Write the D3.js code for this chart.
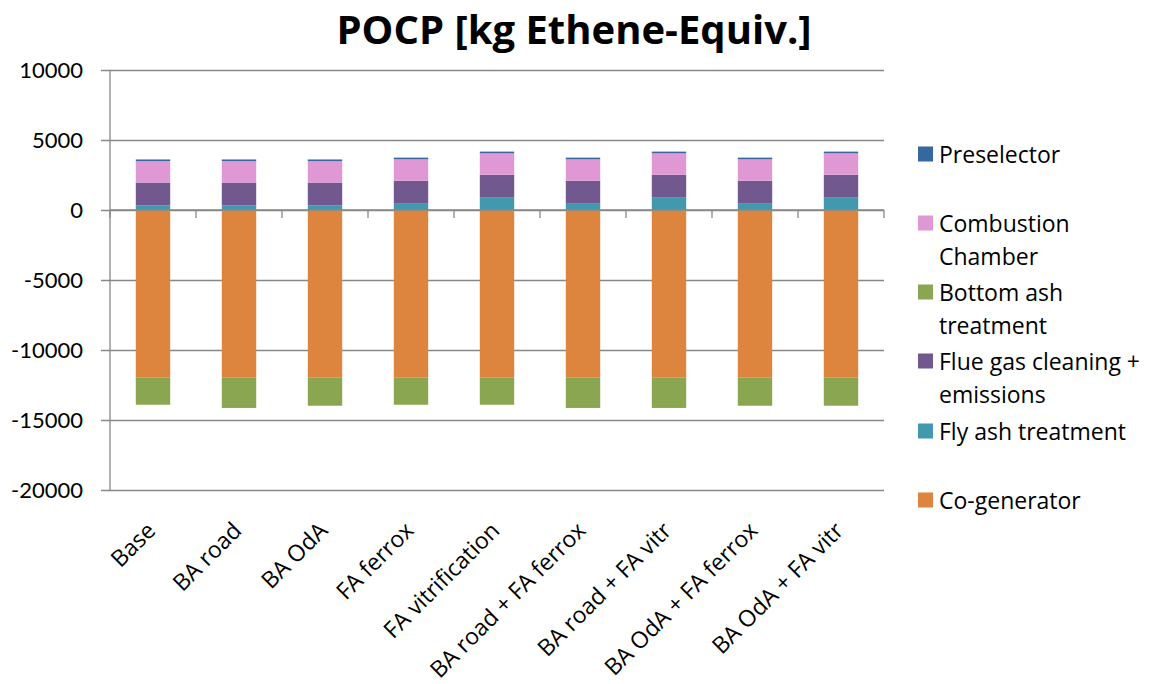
<!DOCTYPE html>
<html>
<head>
<meta charset="utf-8">
<script src="https://cdn.jsdelivr.net/npm/d3@7"></script>
<style>
  html, body { margin: 0; padding: 0; background: #fff; }
  svg { display: block; font-family: "Open Sans", sans-serif; }
</style>
</head>
<body>
<svg id="chart" width="1149" height="684"></svg>
<script>
// Scenarios along the x axis
const categories = ["Base", "BA road", "BA OdA", "FA ferrox", "FA vitrification",
  "BA road + FA ferrox", "BA road + FA vitr", "BA OdA + FA ferrox", "BA OdA + FA vitr"];

// Contributions per process step [kg Ethene-Equiv.]
const coGenerator     = [-11950, -11950, -11950, -11950, -11950, -11950, -11950, -11950, -11950];
const flyAsh          = [320, 320, 320, 450, 880, 450, 880, 450, 880];
const flueGas         = [1640, 1640, 1640, 1640, 1640, 1640, 1640, 1640, 1640];
const bottomAsh       = [-1960, -2190, -2030, -1960, -1960, -2190, -2190, -2030, -2030];
const combustion      = [1530, 1530, 1530, 1530, 1530, 1530, 1530, 1530, 1530];
const preselector     = [120, 120, 120, 120, 120, 120, 120, 120, 120];

const seriesNames = ["Co-generator", "Fly ash treatment", "Flue gas cleaning + emissions",
  "Bottom ash treatment", "Combustion Chamber", "Preselector"];
const seriesValues = [coGenerator, flyAsh, flueGas, bottomAsh, combustion, preselector];
const seriesColors = ["#DD843E", "#4198AF", "#71588F", "#8BA650", "#E098D4", "#35689E"];

// Legend (top to bottom) with wrapped labels
const legendItems = [
  { name: "Preselector", lines: ["Preselector"] },
  { name: "Combustion Chamber", lines: ["Combustion", "Chamber"] },
  { name: "Bottom ash treatment", lines: ["Bottom ash", "treatment"] },
  { name: "Flue gas cleaning + emissions", lines: ["Flue gas cleaning +", "emissions"] },
  { name: "Fly ash treatment", lines: ["Fly ash treatment"] },
  { name: "Co-generator", lines: ["Co-generator"] }
];

const yTicks = [-20000, -15000, -10000, -5000, 0, 5000, 10000];

const svg = d3.select("#chart");
const plot = { left: 110, right: 884, top: 70, bottom: 490 };
const gridColor = "#888888";

const rows = categories.map((c, i) => {
  const r = { category: c };
  seriesNames.forEach((s, j) => { r[s] = seriesValues[j][i]; });
  return r;
});

const stack = d3.stack().keys(seriesNames).offset(d3.stackOffsetDiverging);
const stacked = stack(rows);

const x = d3.scaleBand().domain(categories)
  .range([plot.left, plot.right]).paddingInner(0.6).paddingOuter(0.3);
const y = d3.scaleLinear().domain([-20000, 10000]).range([plot.bottom, plot.top]);

// Horizontal gridlines with left tick marks
const yAxis = d3.axisLeft(y).tickValues(yTicks).tickSize(plot.right - plot.left + 9)
  .tickSizeOuter(0).tickFormat(d => String(d));
const gy = svg.append("g").attr("transform", `translate(${plot.right},0)`).call(yAxis);
gy.select(".domain").remove();
gy.selectAll(".tick line").attr("stroke", gridColor).attr("stroke-width", 1.3);
gy.selectAll(".tick text").attr("x", -(plot.right - plot.left) - 27)
  .attr("font-size", 22).attr("fill", "#000").attr("font-family", "Lato, sans-serif");

// Vertical axis line
svg.append("line").attr("x1", plot.left).attr("x2", plot.left)
  .attr("y1", plot.top).attr("y2", plot.bottom)
  .attr("stroke", gridColor).attr("stroke-width", 1.3);

// Bars
svg.append("g").selectAll("g").data(stacked).join("g")
  .attr("fill", (d, i) => seriesColors[i])
  .selectAll("rect").data(d => d).join("rect")
  .attr("x", d => x(d.data.category))
  .attr("width", x.bandwidth())
  .attr("y", d => y(Math.max(d[0], d[1])))
  .attr("height", d => Math.abs(y(d[0]) - y(d[1])));

// Category axis on the zero line, tick marks between categories
const zeroY = y(0);
svg.append("line").attr("x1", plot.left).attr("x2", plot.right)
  .attr("y1", zeroY).attr("y2", zeroY).attr("stroke", gridColor).attr("stroke-width", 1.3);
const step = x.step();
const boundaries = d3.range(categories.length + 1).map(i => plot.left + i * step);
svg.append("g").selectAll("line").data(boundaries).join("line")
  .attr("x1", d => d).attr("x2", d => d)
  .attr("y1", zeroY).attr("y2", zeroY + 8)
  .attr("stroke", gridColor).attr("stroke-width", 1.3);

// Rotated category labels below the plot
svg.append("g").selectAll("text").data(categories).join("text")
  .attr("transform", d => `translate(${x(d) + x.bandwidth() / 2 + 4},${plot.bottom + 42}) rotate(-45)`)
  .attr("text-anchor", "end")
  .attr("font-size", 23)
  .attr("fill", "#000")
  .text(d => d);

// Title
svg.append("text").attr("x", 574).attr("y", 44)
  .attr("text-anchor", "middle").attr("font-size", 40).attr("font-weight", "bold")
  .attr("fill", "#000").text("POCP [kg Ethene-Equiv.]");

// Legend
const legendY = [154, 223, 292, 361, 431, 500];
const colorOf = name => seriesColors[seriesNames.indexOf(name)];
const lg = svg.append("g").selectAll("g").data(legendItems).join("g")
  .attr("transform", (d, i) => `translate(918,${legendY[i]})`);
lg.append("rect").attr("x", 0).attr("y", -7.5).attr("width", 15).attr("height", 15)
  .attr("fill", d => colorOf(d.name));
lg.append("text").attr("x", 21).attr("y", 8.5).attr("font-size", 23).attr("fill", "#000")
  .selectAll("tspan").data(d => d.lines).join("tspan")
  .attr("x", 21).attr("dy", (d, i) => i === 0 ? 0 : 33)
  .text(d => d);
</script>
</body>
</html>
